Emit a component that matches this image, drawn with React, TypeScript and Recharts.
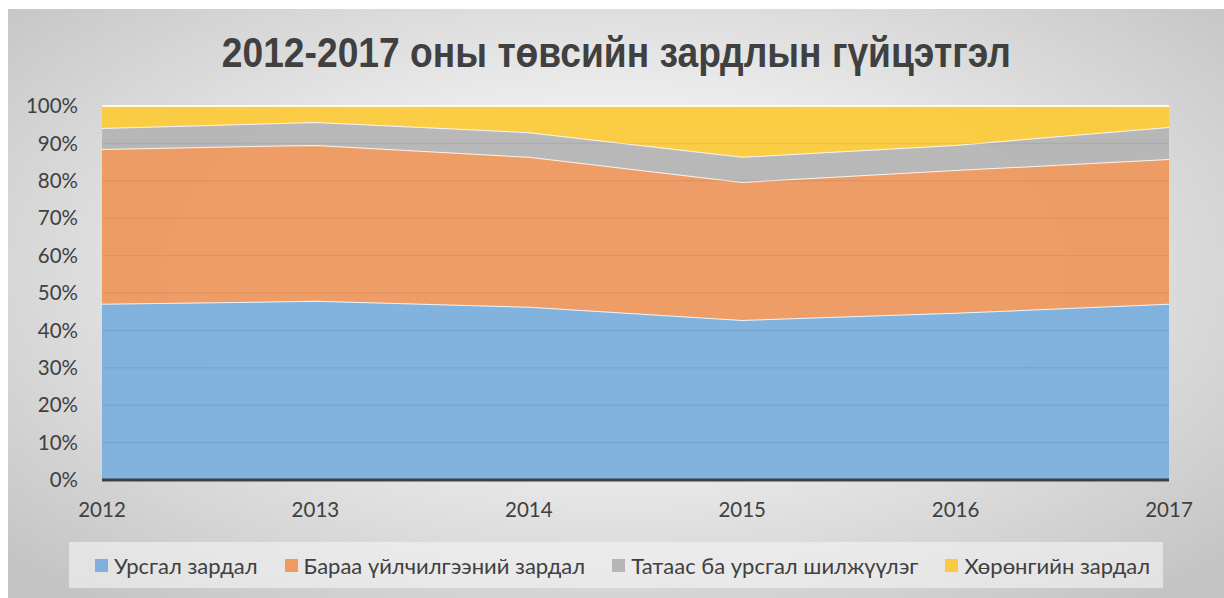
import React from "react";
import {
  AreaChart,
  Area,
  XAxis,
  YAxis,
  ReferenceLine,
} from "recharts";

const years = ["2012", "2013", "2014", "2015", "2016", "2017"];
const currentExp = [47.1, 47.9, 46.3, 42.8, 44.7, 47.1];
const goodsExp = [41.4, 41.7, 40.1, 36.9, 38.2, 38.7];
const subsidyExp = [5.6, 6.1, 6.6, 6.7, 6.7, 8.6];
const capitalExp = [5.9, 4.3, 7.0, 13.6, 10.4, 5.6];
const yTicks = [0, 0.1, 0.2, 0.3, 0.4, 0.5, 0.6, 0.7, 0.8, 0.9, 1];
const gridTicks = [0.1, 0.2, 0.3, 0.4, 0.5, 0.6, 0.7, 0.8, 0.9];

const series = [
  { key: "current", name: "Урсгал зардал", color: "#7EAFDD" },
  { key: "goods", name: "Бараа үйлчилгээний зардал", color: "#EE9A62" },
  { key: "subsidy", name: "Татаас ба урсгал шилжүүлэг", color: "#B6B6B6" },
  { key: "capital", name: "Хөрөнгийн зардал", color: "#FBCB3F" },
];

const data = years.map((year, i) => ({
  year,
  current: currentExp[i],
  goods: goodsExp[i],
  subsidy: subsidyExp[i],
  capital: capitalExp[i],
}));

const FONT = "Lato, 'Noto Sans', sans-serif";
const TEXT = "#404040";

const formatPct = (v: number) => `${Math.round(v * 100)}%`;

const App: React.FC = () => {
  return (
    <>
      <style>{"body{margin:0;overflow:hidden}"}</style>
      <div
        style={{
          position: "relative",
          marginLeft: 8,
          marginTop: 9,
          width: 1216,
          height: 589,
          background:
            "radial-gradient(ellipse 68% 72% at 50% 45%, #ffffff 0%, #eaeaea 45%, #c4c4c4 100%)",
          fontFamily: FONT,
          overflow: "hidden",
        }}
      >
        <div
          style={{
            position: "absolute",
            top: 23,
            left: 0,
            width: "100%",
            textAlign: "center",
            lineHeight: 1,
          }}
        >
          <span
            style={{
              display: "inline-block",
              fontFamily: "'Liberation Sans', Arial, sans-serif",
              fontWeight: 700,
              fontSize: 42,
              color: TEXT,
              transform: "scaleX(0.886)",
              transformOrigin: "center",
              whiteSpace: "nowrap",
            }}
          >
            2012-2017 оны төвсийн зардлын гүйцэтгэл
          </span>
        </div>

        <AreaChart
          width={1216}
          height={589}
          data={data}
          stackOffset="expand"
          margin={{ top: 97, right: 55, left: 0, bottom: 78 }}
          style={{ position: "absolute", top: 0, left: 0 }}
        >
          <XAxis
            dataKey="year"
            height={40}
            tickSize={0}
            tickMargin={22}
            axisLine={{ stroke: "#404040", strokeWidth: 3 }}
            tick={{ fill: TEXT, fontSize: 20.5, fontFamily: FONT }}
          />
          <YAxis
            width={94}
            domain={[0, 1]}
            ticks={yTicks}
            tickFormatter={formatPct}
            axisLine={false}
            tickLine={false}
            tickSize={0}
            tickMargin={24}
            tick={{ fill: TEXT, fontSize: 20.5, fontFamily: FONT }}
          />
          {series.map((s) => (
            <Area
              key={s.key}
              type="linear"
              dataKey={s.key}
              name={s.name}
              stackId="1"
              fill={s.color}
              fillOpacity={0.97}
              stroke="#ffffff"
              strokeOpacity={0.85}
              strokeWidth={2}
              isAnimationActive={false}
            />
          ))}
          {gridTicks.map((t) => (
            <ReferenceLine
              key={t}
              y={t}
              stroke="rgba(0,0,0,0.06)"
              strokeWidth={1.5}
            />
          ))}
        </AreaChart>

        <div
          style={{
            position: "absolute",
            left: 61,
            top: 533,
            width: 1094,
            height: 46,
            background: "rgba(245,245,245,0.6)",
            display: "flex",
            alignItems: "center",
            paddingLeft: 26,
            boxSizing: "border-box",
            fontSize: 22,
            color: TEXT,
            whiteSpace: "nowrap",
          }}
        >
          {series.map((s) => (
            <div
              key={s.key}
              style={{ display: "flex", alignItems: "center", marginRight: 27 }}
            >
              <span
                style={{
                  display: "inline-block",
                  width: 13,
                  height: 13,
                  background: s.color,
                  marginRight: 6,
                }}
              />
              <span>{s.name}</span>
            </div>
          ))}
        </div>
      </div>
    </>
  );
};

export default App;
